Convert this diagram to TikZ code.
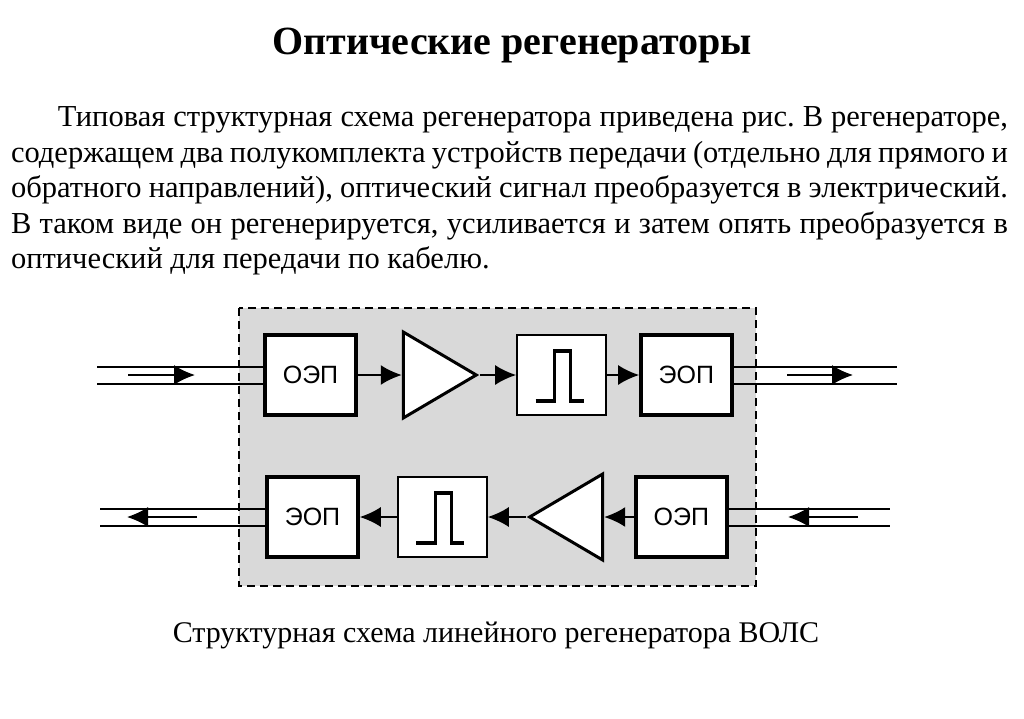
\documentclass[tikz,border=0pt]{standalone}
\usepackage{fontspec}
\setmainfont{Liberation Serif}
\newfontfamily\blockfont{Liberation Sans}
\usetikzlibrary{arrows.meta,positioning,shapes.geometric}

\begin{document}
\begin{tikzpicture}[x=1pt,y=-1pt,->,>={Latex[length=21pt,width=20pt]},line width=2pt,
  block/.style={draw,fill=white,line width=3.5pt,minimum width=91pt,minimum height=80pt,inner sep=0pt,
    font=\blockfont\fontsize{25}{25}\selectfont},
  pulsebox/.style={draw,fill=white,line width=2pt,minimum width=89pt,minimum height=80pt,inner sep=0pt,
    path picture={\draw[-,line width=3.5pt] ([xshift=-26pt,yshift=-26pt]path picture bounding box.center)
      -- ++(19pt,0pt) -- ++(0pt,50pt) -- ++(16pt,0pt) -- ++(0pt,-50pt) -- ++(13pt,0pt);}},
  amp/.style={draw,fill=white,line width=3pt,isosceles triangle,isosceles triangle stretches,
    minimum width=86pt,minimum height=73pt,inner sep=0pt},
  fiber/.style={-,line width=2pt},
  frame/.style={draw,dashed,dash pattern=on 8pt off 5pt,line width=2.5pt,fill=black!15}]
  \useasboundingbox (0,0) rectangle (1024,719);

  % texts
  \node[anchor=base,font=\bfseries\fontsize{40}{40}\selectfont] (title) at (512,55) {Оптические регенераторы};
  \node[anchor=base west,inner sep=0pt] (para) at (10,127) {\parbox[t]{997pt}{\fontsize{30.5}{35.5}\selectfont
    \frenchspacing\hyphenpenalty=10000\hspace*{47pt}Типовая структурная схема регенератора приведена рис. В регенераторе,\linebreak
    содержащем два полукомплекта устройств передачи (отдельно для прямого и\linebreak
    обратного направлений), оптический сигнал преобразуется в электрический.\linebreak
    В таком виде он регенерируется, усиливается и затем опять преобразуется в\linebreak
    оптический для передачи по кабелю.}};
  \node[anchor=base,font=\fontsize{30}{30}\selectfont] (caption) at (496,642) {Структурная схема линейного регенератора ВОЛС};

  % regenerator housing
  \path[frame] (239,308) rectangle (756,586);

  % forward direction
  \node[block] (oep1) at (310.5,375) {ОЭП};
  \node[amp] (amp1) [right=44pt of oep1] {};
  \node[pulsebox] (reg1) [right=36pt of amp1] {};
  \node[block] (eop1) [right=32pt of reg1] {ЭОП};
  \draw (oep1) -- (amp1);
  \draw (amp1) -- (reg1);
  \draw (reg1) -- (eop1);

  % backward direction
  \node[block] (eop2) at (312.5,517) {ЭОП};
  \node[pulsebox] (reg2) [right=37pt of eop2] {};
  \node[amp,shape border rotate=180] (amp2) [right=38pt of reg2] {};
  \node[block] (oep2) [right=30pt of amp2] {ОЭП};
  \draw (oep2) -- (amp2);
  \draw (amp2) -- (reg2);
  \draw (reg2) -- (eop2);

  % fibres
  \coordinate (in1) at (97,375);
  \coordinate (out1) at (897,375);
  \coordinate (out2) at (100,517);
  \coordinate (in2) at (890,517);
  \draw[fiber] ([yshift=8.5pt]in1) -- ([yshift=8.5pt]in1 -| oep1.west);
  \draw[fiber] ([yshift=-8.5pt]in1) -- ([yshift=-8.5pt]in1 -| oep1.west);
  \draw[fiber] ([yshift=8.5pt]eop1.east) -- ([yshift=8.5pt]eop1.east -| out1);
  \draw[fiber] ([yshift=-8.5pt]eop1.east) -- ([yshift=-8.5pt]eop1.east -| out1);
  \draw[fiber] ([yshift=8.5pt]out2) -- ([yshift=8.5pt]out2 -| eop2.west);
  \draw[fiber] ([yshift=-8.5pt]out2) -- ([yshift=-8.5pt]out2 -| eop2.west);
  \draw[fiber] ([yshift=8.5pt]oep2.east) -- ([yshift=8.5pt]oep2.east -| in2);
  \draw[fiber] ([yshift=-8.5pt]oep2.east) -- ([yshift=-8.5pt]oep2.east -| in2);

  % light direction marks
  \coordinate (d1a) at (128,375);
  \coordinate (d1b) at (195,375);
  \coordinate (d2a) at (787,375);
  \coordinate (d2b) at (853,375);
  \coordinate (d3a) at (197,517);
  \coordinate (d3b) at (127,517);
  \coordinate (d4a) at (858,517);
  \coordinate (d4b) at (788,517);
  \draw (d1a) -- (d1b);
  \draw (d2a) -- (d2b);
  \draw (d3a) -- (d3b);
  \draw (d4a) -- (d4b);
\end{tikzpicture}
\end{document}
